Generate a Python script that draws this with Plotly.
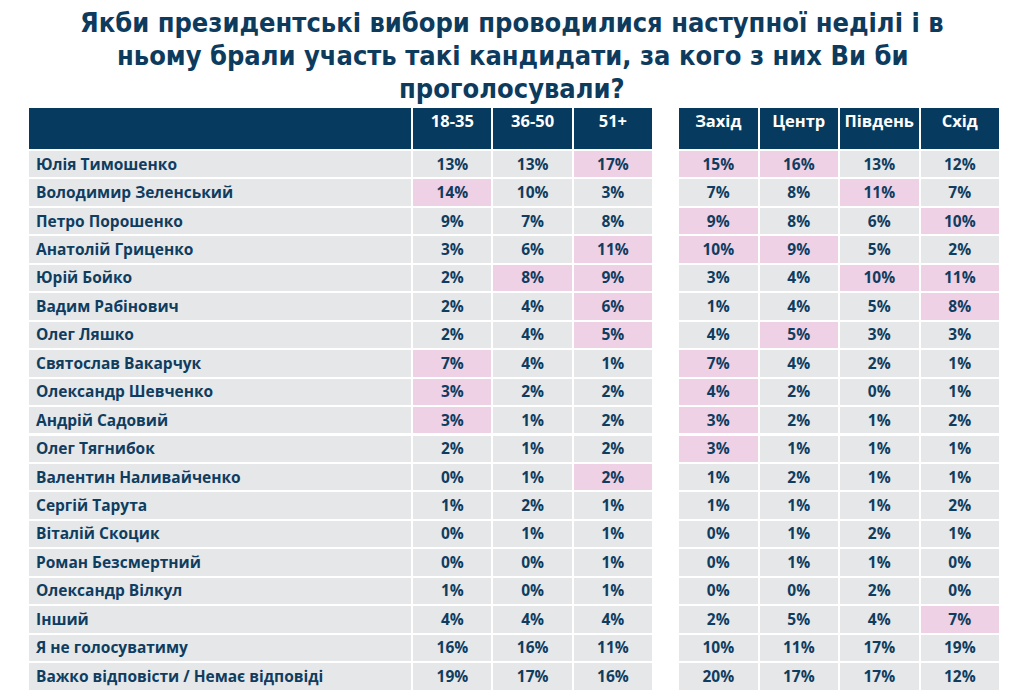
import plotly.graph_objects as go

title_lines = [
    "Якби президентські вибори проводилися наступної неділі і в",
    "ньому брали участь такі кандидати, за кого з них Ви би",
    "проголосували?",
]

names = [
    "Юлія Тимошенко", "Володимир Зеленський", "Петро Порошенко", "Анатолій Гриценко",
    "Юрій Бойко", "Вадим Рабінович", "Олег Ляшко", "Святослав Вакарчук",
    "Олександр Шевченко", "Андрій Садовий", "Олег Тягнибок", "Валентин Наливайченко",
    "Сергій Тарута", "Віталій Скоцик", "Роман Безсмертний", "Олександр Вілкул",
    "Інший", "Я не голосуватиму", "Важко відповісти / Немає відповіді",
]

age_labels = ["18-35", "36-50", "51+"]
age_18_35 = [13, 14, 9, 3, 2, 2, 2, 7, 3, 3, 2, 0, 1, 0, 0, 1, 4, 16, 19]
age_36_50 = [13, 10, 7, 6, 8, 4, 4, 4, 2, 1, 1, 1, 2, 1, 0, 0, 4, 16, 17]
age_51_plus = [17, 3, 8, 11, 9, 6, 5, 1, 2, 2, 2, 2, 1, 1, 1, 1, 4, 11, 16]

region_labels = ["Захід", "Центр", "Південь", "Схід"]
west = [15, 7, 9, 10, 3, 1, 4, 7, 4, 3, 3, 1, 1, 0, 0, 0, 2, 10, 20]
center = [16, 8, 8, 9, 4, 4, 5, 4, 2, 2, 1, 2, 1, 1, 1, 0, 5, 11, 17]
south = [13, 11, 6, 5, 10, 5, 3, 2, 0, 1, 1, 1, 1, 2, 1, 2, 4, 17, 17]
east = [12, 7, 10, 2, 11, 8, 3, 1, 1, 2, 1, 1, 2, 1, 0, 0, 7, 19, 12]

# highlighted (pink) cells: row indices per column
hl_18_35 = [1, 7, 8, 9]
hl_36_50 = [4]
hl_51_plus = [0, 3, 4, 5, 6, 11]
hl_west = [0, 2, 3, 7, 8, 9, 10]
hl_center = [0, 3, 6]
hl_south = [1, 4]
hl_east = [2, 4, 5, 16]

NAVY = "#063a5e"
TEXT = "#0f3d60"
GRAY = "#e6e7e9"
PINK = "#efd1e5"
FONT = "Open Sans, DejaVu Sans, sans-serif"
TITLE_FONT = "DejaVu Sans Condensed, Liberation Sans Narrow, sans-serif"

W, H = 1024, 700
OFF = 8  # page body margin around the figure
HEADER_H = 43
ROW_H = 28.45
TOP = 107


def px_x(x):
    return (x - OFF) / W


def px_y(y):
    return 1 - (y - OFF) / H


def nb(s):
    # non-breaking spaces keep the declared row height
    return s.replace(" ", "\u00a0")


def fmt(vals):
    return ["%d%%" % v for v in vals]


def fills(hl):
    return [PINK if i in hl else GRAY for i in range(len(names))]


fig = go.Figure()

left_cols = [age_18_35, age_36_50, age_51_plus]
left_hl = [hl_18_35, hl_36_50, hl_51_plus]
fig.add_trace(go.Table(
    domain=dict(x=[px_x(28), px_x(653)], y=[0, px_y(TOP)]),
    columnwidth=[383, 80, 80, 80],
    header=dict(
        values=[""] + [nb(l) for l in age_labels],
        fill_color=NAVY,
        line=dict(color="white", width=2),
        font=dict(family=FONT, size=16.5, color="white", weight="bold"),
        align=["left", "center"],
        height=HEADER_H,
    ),
    cells=dict(
        values=[[nb(n) for n in names]] + [fmt(c) for c in left_cols],
        fill_color=[[GRAY] * len(names)] + [fills(h) for h in left_hl],
        line=dict(color="white", width=2),
        font=dict(family=FONT, size=15.5, color=TEXT, weight="bold"),
        align=["left", "center", "center", "center"],
        height=ROW_H,
    ),
))

right_cols = [west, center, south, east]
right_hl = [hl_west, hl_center, hl_south, hl_east]
fig.add_trace(go.Table(
    domain=dict(x=[px_x(678), px_x(1000)], y=[0, px_y(TOP)]),
    columnwidth=[80, 80, 80, 80],
    header=dict(
        values=[nb(l) for l in region_labels],
        fill_color=NAVY,
        line=dict(color="white", width=2),
        font=dict(family=FONT, size=16.5, color="white", weight="bold"),
        align="center",
        height=HEADER_H,
    ),
    cells=dict(
        values=[fmt(c) for c in right_cols],
        fill_color=[fills(h) for h in right_hl],
        line=dict(color="white", width=2),
        font=dict(family=FONT, size=15.5, color=TEXT, weight="bold"),
        align="center",
        height=ROW_H,
    ),
))

for i, line in enumerate(title_lines):
    fig.add_annotation(
        x=px_x(512), xref="paper", y=px_y(22 + 33 * i), yref="paper",
        text="<b>%s</b>" % line, showarrow=False,
        xanchor="center", yanchor="middle",
        font=dict(family=TITLE_FONT, size=27, color="#0d3b5e"),
    )

fig.update_layout(
    width=W, height=H,
    margin=dict(l=0, r=0, t=0, b=0),
    paper_bgcolor="white",
    plot_bgcolor="white",
)

fig.write_html("out.html")
